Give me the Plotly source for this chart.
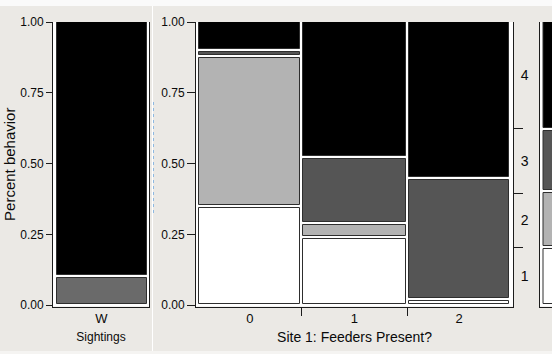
import plotly.graph_objects as go

# ---------------- data ----------------
# Left panel: Sightings
sightings_cats = ["W"]
sightings_lower = [0.10]   # grey block
sightings_upper = [0.90]   # black block

# Middle panel: Site 1 feeders present, behaviour share per column
feeder_cats = ["0", "1", "2"]
feeder_widths = [0.332, 0.337, 0.331]
behavior_levels = ["1", "2", "3", "4"]
behavior_1 = [0.350, 0.2385, 0.021]
behavior_2 = [0.528, 0.050, 0.000]
behavior_3 = [0.022, 0.2325, 0.426]
behavior_4 = [0.100, 0.479, 0.553]

# Right panel (partly visible): one column of the next mosaic
next_width = [0.33]
next_shares = [0.205, 0.195, 0.222, 0.378]

y_tickvals = [0.0, 0.25, 0.5, 0.75, 1.0]
y_ticktext = ["0.00", "0.25", "0.50", "0.75", "1.00"]

# ---------------- styling ----------------
W, H = 552, 354
FONT = "Liberation Sans, Arial, Helvetica, sans-serif"
TXT = "#0a0a0a"
AXC = "#1c1c1c"
EDGE = "#2e2e2e"
BG = "#EBE9E5"
level_colors = ["#FFFFFF", "#B3B3B3", "#555555", "#000000"]
sight_colors = ["#6A6A6A", "#000000"]

Y_TOP, Y_BOT = 22.0, 306.5
y_range = [-0.005, 1.0]
px_per_y = (Y_BOT - Y_TOP) / (y_range[1] - y_range[0])
gap_y = 1.5 / px_per_y


def xdom(a, b):
    return [a / W, b / W]


ydomain = [1 - Y_BOT / H, 1 - Y_TOP / H]


def x_range(left_px, right_px, start_px, scale):
    return [-(start_px - left_px) / scale, (right_px - start_px) / scale]


# pixel frames of the three panels
L_DOM, L_START, L_SCALE = (53, 149), 55.0, 93.0
M_DOM, M_START, M_SCALE = (196, 513), 197.8, 313.0
R_DOM, R_START, R_SCALE = (539.5, 552), 541.5, 313.0


def mosaic_traces(widths, level_values, colors, xa, ya, scale):
    """One bar trace per level, stacked inside columns of given widths."""
    gap_x = 1.5 / scale
    traces = []
    lefts = [sum(widths[:i]) for i in range(len(widths))]
    cum = [0.0] * len(widths)
    for lv, vals in enumerate(level_values):
        xs, ws, bases, hs = [], [], [], []
        for i, v in enumerate(vals):
            lo, hi = cum[i], cum[i] + v
            cum[i] = hi
            top_gap = 0 if hi >= 0.9999 else gap_y
            h = (hi - lo) - gap_y - top_gap
            xs.append(lefts[i] + widths[i] / 2)
            ws.append(widths[i] - 2 * gap_x)
            bases.append(lo + gap_y)
            hs.append(h if v > 0 and h > 0 else None)
        traces.append(go.Bar(
            x=xs, y=hs, base=bases, width=ws,
            marker=dict(color=colors[lv], line=dict(color=EDGE, width=1)),
            xaxis=xa, yaxis=ya, showlegend=False, hoverinfo="skip",
        ))
    return traces


fig = go.Figure()

for t in mosaic_traces([1.0], [sightings_lower, sightings_upper], sight_colors, "x", "y", L_SCALE):
    fig.add_trace(t)

for t in mosaic_traces(feeder_widths, [behavior_1, behavior_2, behavior_3, behavior_4],
                       level_colors, "x2", "y2", M_SCALE):
    fig.add_trace(t)

for t in mosaic_traces(next_width, [[s] for s in next_shares], level_colors, "x3", "y3", R_SCALE):
    fig.add_trace(t)

# marginal shares of behaviour levels -> right-hand level axis
col_tot = sum(feeder_widths)
marg = [sum(w * v for w, v in zip(feeder_widths, vals)) / col_tot
        for vals in (behavior_1, behavior_2, behavior_3, behavior_4)]
bounds, mids, c = [], [], 0.0
for m in marg:
    mids.append(c + m / 2)
    c += m
    bounds.append(c)
bounds = bounds[:-1]

fig.add_trace(go.Scatter(x=[None], y=[None], xaxis="x2", yaxis="y4",
                         showlegend=False, hoverinfo="skip"))

col_lefts = [sum(feeder_widths[:i]) for i in range(len(feeder_widths))]
col_centers = [l + w / 2 for l, w in zip(col_lefts, feeder_widths)]
col_bounds = [l for l in col_lefts[1:]]

axis_common = dict(showgrid=False, zeroline=False, fixedrange=True, automargin=False,
                   linecolor=AXC, linewidth=1, tickcolor=AXC,
                   tickfont=dict(family=FONT, size=12, color=TXT))

fig.update_layout(
    width=W, height=H,
    margin=dict(l=0, r=0, t=0, b=0),
    paper_bgcolor=BG, plot_bgcolor="#FFFFFF",
    barmode="overlay", bargap=0,
    font=dict(family=FONT, color=TXT),
    xaxis=dict(axis_common, domain=xdom(*L_DOM),
               range=x_range(L_DOM[0], L_DOM[1], L_START, L_SCALE),
               showline=True, ticks="", tickmode="array",
               tickvals=[0.5], ticktext=sightings_cats,
               tickfont=dict(family=FONT, size=13, color=TXT),
               title=dict(text="Sightings", font=dict(family=FONT, size=12, color=TXT),
                          standoff=7),
               anchor="y"),
    yaxis=dict(axis_common, domain=ydomain, range=y_range,
               showline=True, mirror=True, ticks="outside", ticklen=6,
               tickmode="array", tickvals=y_tickvals, ticktext=y_ticktext,
               title=dict(text="Percent behavior", font=dict(family=FONT, size=15, color=TXT),
                          standoff=0),
               anchor="x"),
    xaxis2=dict(axis_common, domain=xdom(*M_DOM),
                range=x_range(M_DOM[0], M_DOM[1], M_START, M_SCALE),
                showline=True, ticks="", tickmode="array",
                tickvals=col_centers, ticktext=feeder_cats,
                tickfont=dict(family=FONT, size=13, color=TXT),
                minor=dict(tickmode="array", tickvals=col_bounds, ticks="outside",
                           ticklen=8, tickcolor=AXC, tickwidth=1, showgrid=False),
                title=dict(text="Site 1: Feeders Present?",
                           font=dict(family=FONT, size=14, color=TXT), standoff=7),
                anchor="y2"),
    yaxis2=dict(axis_common, domain=ydomain, range=y_range,
                showline=True, ticks="outside", ticklen=8,
                tickmode="array", tickvals=y_tickvals, ticktext=y_ticktext,
                anchor="x2"),
    yaxis4=dict(axis_common, range=y_range, overlaying="y2", anchor="x2", side="right",
                showline=True, ticks="", tickmode="array",
                tickvals=mids, ticktext=behavior_levels, ticklabelstandoff=4,
                tickfont=dict(family=FONT, size=14, color=TXT),
                minor=dict(tickmode="array", tickvals=bounds, ticks="outside",
                           ticklen=9, tickcolor=AXC, tickwidth=1, showgrid=False)),
    xaxis3=dict(axis_common, domain=[R_DOM[0] / W, 1.0],
                range=x_range(R_DOM[0], R_DOM[1], R_START, R_SCALE),
                showline=True, ticks="", showticklabels=False, anchor="y3"),
    yaxis3=dict(axis_common, domain=ydomain, range=y_range,
                showline=True, ticks="", showticklabels=False, anchor="x3"),
)

# window chrome: white strip on top, light strip at bottom, panel divider
fig.add_shape(type="rect", xref="paper", yref="paper", x0=0, x1=1,
              y0=1 - 6 / H, y1=1, fillcolor="#FAFAFA", line=dict(width=0), layer="below")
fig.add_shape(type="rect", xref="paper", yref="paper", x0=0, x1=1,
              y0=0, y1=3 / H, fillcolor="#F5F4F2", line=dict(width=0), layer="below")
fig.add_shape(type="line", xref="paper", yref="paper", x0=152.5 / W, x1=152.5 / W,
              y0=3 / H, y1=1 - 6 / H, line=dict(color="#FFFFFF", width=1), layer="below")
fig.add_shape(type="line", xref="paper", yref="paper", x0=153.5 / W, x1=153.5 / W,
              y0=1 - 213 / H, y1=1 - 100 / H,
              line=dict(color="#8DB8E0", width=1, dash="dot"), layer="below")

fig.write_html("out.html")
